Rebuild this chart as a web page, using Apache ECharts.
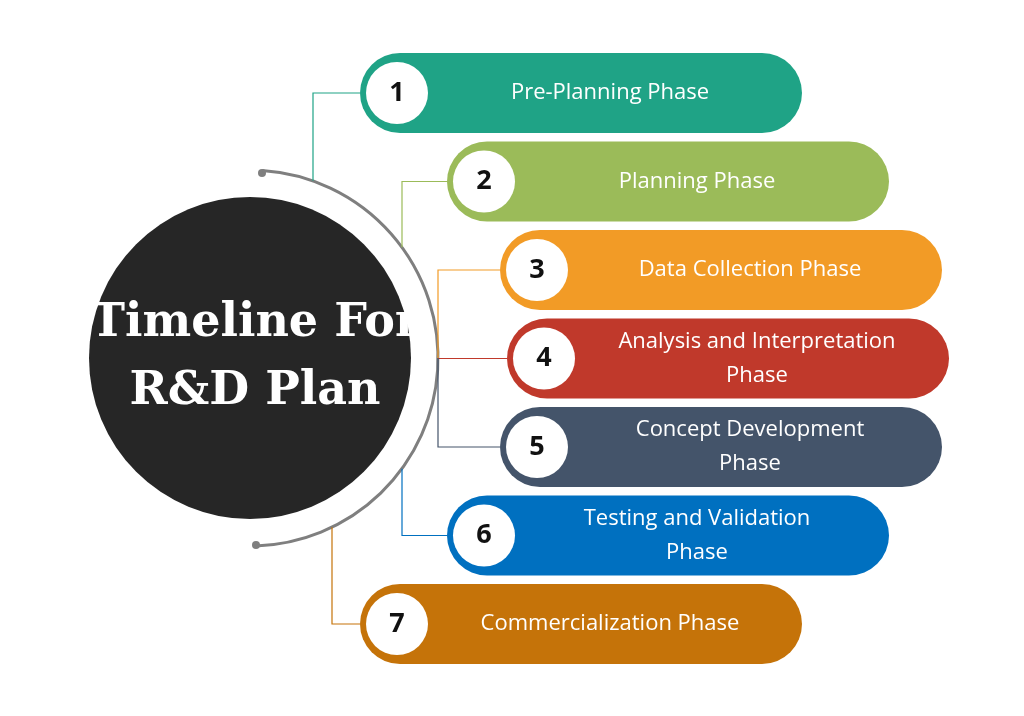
<!DOCTYPE html>
<html><head><meta charset="utf-8">
<script src="https://cdn.jsdelivr.net/npm/echarts@6/dist/echarts.min.js"></script>
<style>html,body{margin:0;background:#fff}#c{width:1024px;height:716px}</style>
</head><body><div id="c"></div>
<script>
const phases = ["Pre-Planning Phase","Planning Phase","Data Collection Phase","Analysis and Interpretation\nPhase","Concept Development\nPhase","Testing and Validation\nPhase","Commercialization Phase"];
const numbers = ["1","2","3","4","5","6","7"];
const pillStart = [360,447,500,507,500,447,360];
const elbowX = [313,402,438,438,438,402,332];
const colors = ["#1FA386","#9BBB59","#F29B26","#C0392B","#44546A","#0070C0","#C57309"];
const title = "Timeline For\nR&D Plan";

const chart = echarts.init(document.getElementById('c'));
const CX=250, CY=358, R=188;
const pillW=442;
chart.setOption({
  animation:false,
  grid:{left:0,right:0,top:48.75,bottom:47.75},
  xAxis:{type:'value',min:0,max:1024,show:false},
  yAxis:{type:'category',data:phases,inverse:true,show:false},
  graphic:[
    {type:'arc',shape:{cx:CX,cy:CY,r:R,startAngle:-1.506,endAngle:1.539,clockwise:true},style:{stroke:'#7f7f7f',lineWidth:3,fill:null},z:1},
    {type:'circle',shape:{cx:262,cy:173,r:4},style:{fill:'#7f7f7f'}},
    {type:'circle',shape:{cx:256,cy:545,r:4},style:{fill:'#7f7f7f'}},
    {type:'circle',shape:{cx:CX,cy:CY,r:161},style:{fill:'#262626'},z:2},
    {type:'text',x:CX+5,y:CY,z:3,style:{text:title,fill:'#fff',font:'bold 46px "DejaVu Serif", serif',align:'center',verticalAlign:'middle',lineHeight:68}}
  ],
  series:[{
    type:'custom',
    coordinateSystem:'cartesian2d',
    encode:{x:0,y:1},
    data:pillStart.map((s,i)=>[s,i,elbowX[i]]),
    renderItem:function(params,api){
      const i=params.dataIndex;
      const p=api.coord([api.value(0),api.value(1)]);
      const e=api.coord([api.value(2),api.value(1)]);
      const w=api.size([pillW,0])[0];
      const h=80;
      const col=colors[i];
      const dy=CY-p[1];
      const dx=e[0]-CX;
      const arcY=CY-Math.sign(dy)*Math.sqrt(Math.max(0,R*R-dx*dx));
      let pts;
      if(Math.abs(dy)<1) pts=[[e[0],p[1]],[p[0],p[1]]];
      else pts=[[p[0],p[1]],[e[0],p[1]],[e[0],Math.abs(dx)>=R-1?CY:arcY]];
      return {type:'group',children:[
        {type:'polyline',shape:{points:pts},style:{stroke:col,lineWidth:1.2,fill:null}},
        {type:'rect',shape:{x:p[0],y:p[1]-h/2,width:w,height:h,r:h/2},style:{fill:col}},
        {type:'circle',shape:{cx:p[0]+37,cy:p[1],r:31},style:{fill:'#fff'}},
        {type:'text',x:p[0]+37,y:p[1],style:{text:numbers[i],fill:'#111',font:'bold 27px "Open Sans", sans-serif',align:'center',verticalAlign:'middle'}},
        {type:'text',x:p[0]+250,y:p[1],style:{text:phases[i],fill:'#fff',font:'22px "Open Sans", sans-serif',align:'center',verticalAlign:'middle',lineHeight:34}}
      ]};
    }
  }]
});
</script></body></html>
